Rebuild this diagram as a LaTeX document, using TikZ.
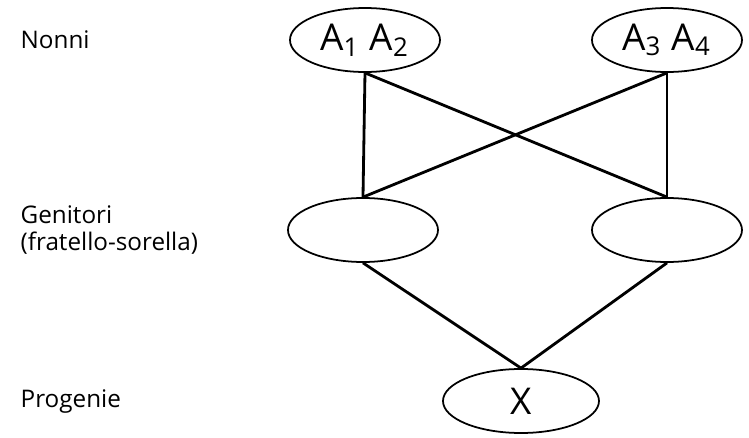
\documentclass[tikz,border=0pt]{standalone}
\usepackage{fontspec}
\setmainfont{Open Sans}
\usetikzlibrary{shapes.geometric}

\begin{document}
\begin{tikzpicture}[
    pair/.style={draw, ellipse, line width=0.5pt, inner sep=0pt,
                 minimum width=15mm, minimum height=6.4mm,
                 font=\fontsize{10.5}{12}\selectfont},
    tag/.style={anchor=west, align=left, inner sep=0pt,
                font=\fontsize{6.9}{7.6}\selectfont},
    link/.style={line width=0.8pt},
]
\useasboundingbox (0,0) rectangle (7.49,4.38);
% generations
\node[tag] (nonni) at (0.20,3.98) {Nonni};
\node[tag] (genit) at (0.20,2.08) {Genitori\\(fratello-sorella)};
\node[tag] (prog)  at (0.20,0.36) {Progenie};
% grandparents
\node[pair] (a12) at (3.65,3.98) {A\textsubscript{1} A\textsubscript{2}};
\node[pair] (a34) at (6.67,3.98) {A\textsubscript{3} A\textsubscript{4}};
% parents
\node[pair] (pl) at (3.63,2.08) {};
\node[pair] (pr) at (6.67,2.08) {};
% offspring
\node[pair, minimum width=15.6mm] (x) at (5.21,0.37) {X};
\draw[link] (a12.south) -- (pl.north);
\draw[link] (a12.south) -- (pr.north);
\draw[link] (a34.south) -- (pl.north);
\draw[link] (a34.south) -- (pr.north);
\draw[link] (pl.south) -- (x.north);
\draw[link] (pr.south) -- (x.north);
\end{tikzpicture}
\end{document}
